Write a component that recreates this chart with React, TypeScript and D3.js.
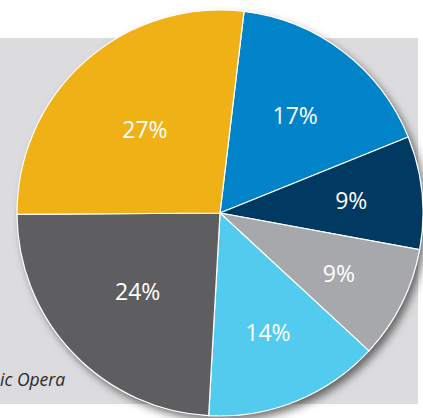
import React from "react";
import * as d3 from "d3";

const categories = ["A", "B", "C", "D", "E", "F"];
const values = [17, 9, 9, 14, 24, 27];
const labels = ["17%", "9%", "9%", "14%", "24%", "27%"];
const colors = ["#0083C9", "#003A63", "#A7A8AB", "#52CBEE", "#5E5E60", "#EFB116"];
const footnote = "ic Opera";

const W = 423;
const H = 418;
const cx = 220;
const cy = 213;
const R = 203;
const startDeg = 6.8;
const labelRadiusFrac = [0.61, 0.65, 0.655, 0.63, 0.56, 0.555];

export default function App() {
  const pie = d3
    .pie<number>()
    .sort(null)
    .value((d) => d)
    .startAngle((startDeg * Math.PI) / 180)
    .endAngle((startDeg * Math.PI) / 180 + 2 * Math.PI);
  const arcs = pie(values);
  const arc = d3.arc<d3.PieArcDatum<number>>().innerRadius(0).outerRadius(R);

  return (
    <svg
      width={W}
      height={H}
      style={{ position: "absolute", left: 0, top: 0 }}
      xmlns="http://www.w3.org/2000/svg"
    >
      <defs>
        <filter id="sh" x="-20%" y="-20%" width="150%" height="150%">
          <feDropShadow dx="4" dy="5" stdDeviation="4" floodColor="#000" floodOpacity="0.55" />
        </filter>
      </defs>
      <rect x={0} y={0} width={W} height={H} fill="#fff" />
      <rect x={0} y={38} width={418} height={366} fill="#DCDCDE" />
      <text
        x={0}
        y={386}
        fontFamily="Open Sans, sans-serif"
        fontStyle="italic"
        fontSize={17.5}
        fill="#2a2a2a"
      >
        {footnote}
      </text>
      <g transform={`translate(${cx},${cy})`}>
        <circle r={R} fill="#fff" filter="url(#sh)" />
        {arcs.map((a, i) => (
          <path key={categories[i]} d={arc(a) || ""} fill={colors[i]} stroke="#fff" strokeWidth={1.2} />
        ))}
        {arcs.map((a, i) => {
          const lr = R * labelRadiusFrac[i];
          const [x, y] = d3.arc<d3.PieArcDatum<number>>().innerRadius(lr).outerRadius(lr).centroid(a);
          return (
            <text
              key={"l" + categories[i]}
              x={x}
              y={y}
              textAnchor="middle"
              dominantBaseline="central"
              fontFamily="Open Sans, sans-serif"
              fontSize={23}
              fill="#fff"
            >
              {labels[i]}
            </text>
          );
        })}
      </g>
    </svg>
  );
}
